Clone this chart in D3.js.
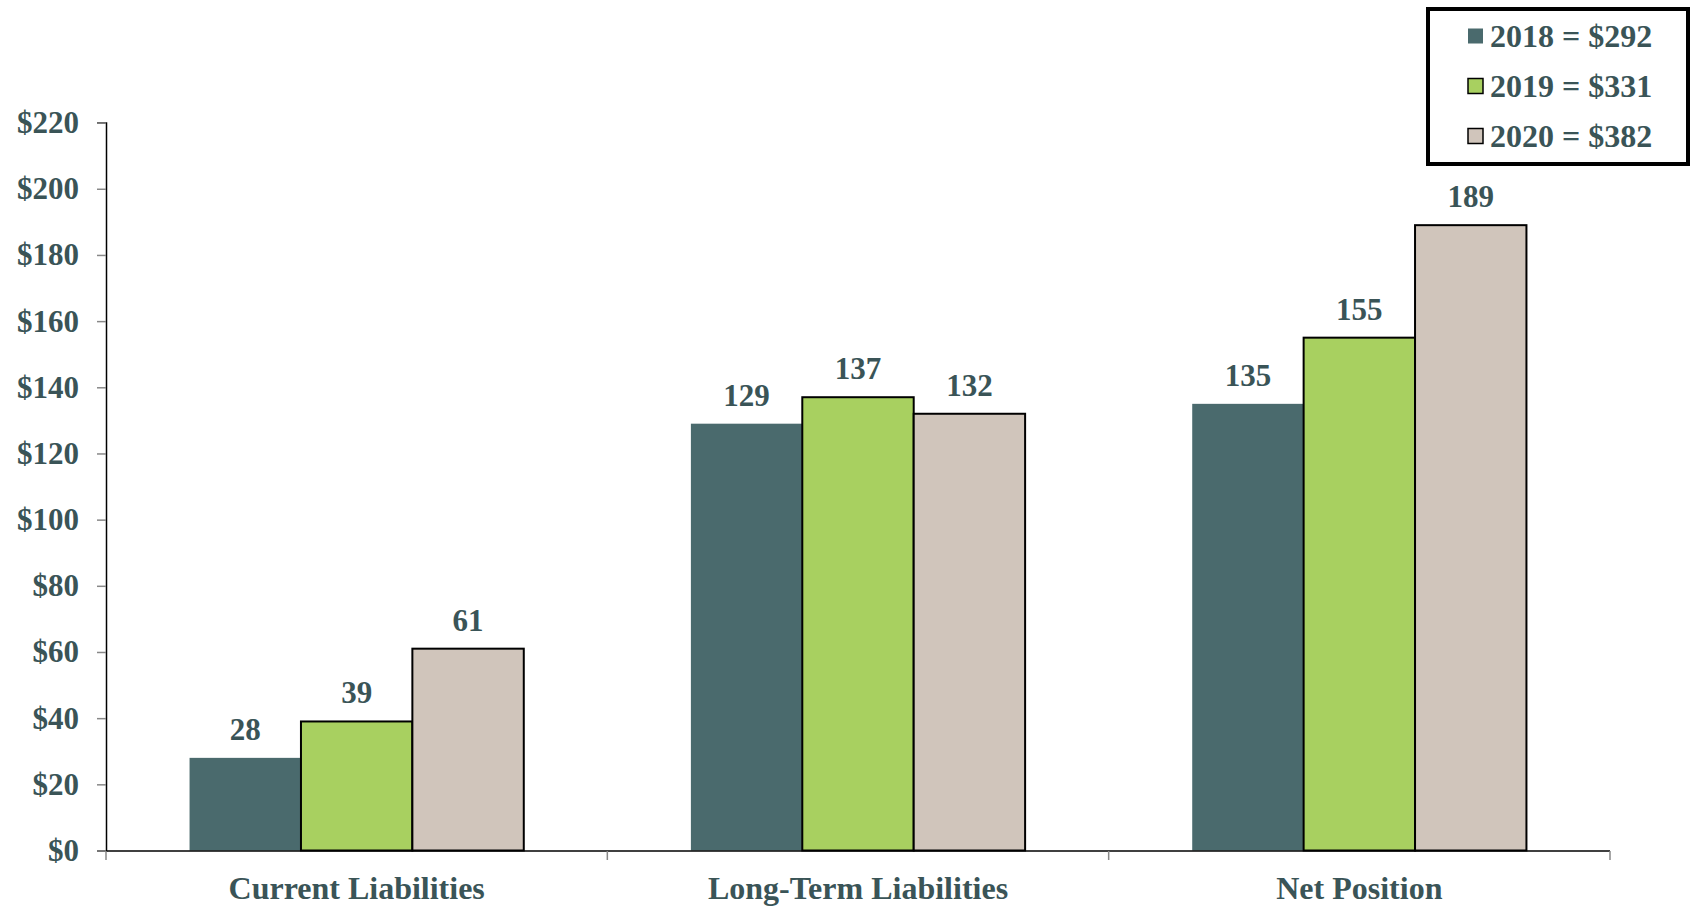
<!DOCTYPE html>
<html>
<head>
<meta charset="utf-8">
<script src="https://cdn.jsdelivr.net/npm/d3@7/dist/d3.min.js"></script>
<style>
  html, body { margin: 0; padding: 0; background: #fff; }
  svg { display: block; }
  text { font-family: "Liberation Serif", "Times New Roman", serif; font-weight: bold; fill: #3a5457; }
</style>
</head>
<body>
<script>
const categories = ["Current Liabilities", "Long-Term Liabilities", "Net Position"];
const years = ["2018", "2019", "2020"];
const values2018 = [28, 129, 135];
const values2019 = [39, 137, 155];
const values2020 = [61, 132, 189];
const totals = ["$292", "$331", "$382"];
const yTicks = [0, 20, 40, 60, 80, 100, 120, 140, 160, 180, 200, 220];

const series = [values2018, values2019, values2020];
const colors = ["#4a6a6d", "#a8d060", "#d0c5bb"];
const strokes = ["none", "#000", "#000"];

const W = 1701, H = 907;
const svg = d3.select("body").append("svg").attr("width", W).attr("height", H);

const x0 = d3.scaleBand().domain(categories).range([106, 1610]).padding(0);
const x1 = d3.scaleBand().domain(years).range([0, x0.bandwidth()]).paddingInner(0).paddingOuter(0.75);
const y = d3.scaleLinear().domain([0, 220]).range([850.5, 122.6]);

// Y axis
const yAxis = svg.append("g").attr("transform", "translate(106,0)")
  .call(d3.axisLeft(y).tickValues(yTicks).tickSize(9).tickPadding(18).tickFormat(d => "$" + d));
yAxis.select(".domain").attr("stroke", "#000").attr("stroke-width", 1.5);
yAxis.selectAll(".tick line").attr("stroke", "#888").attr("stroke-width", 1.5);
yAxis.selectAll(".tick text").style("font-size", "31px").attr("fill", "#3a5457")
  .style("font-family", '"Liberation Serif", serif').style("font-weight", "bold");

// Bars
const groups = svg.append("g").selectAll("g").data(categories).join("g")
  .attr("transform", d => `translate(${x0(d)},0)`);

groups.selectAll("rect")
  .data((c, ci) => years.map((yr, si) => ({ yr, si, v: series[si][ci] })))
  .join("rect")
  .attr("x", d => x1(d.yr))
  .attr("y", d => y(d.v))
  .attr("width", x1.bandwidth())
  .attr("height", d => y(0) - y(d.v))
  .attr("fill", d => colors[d.si])
  .attr("stroke", d => strokes[d.si])
  .attr("stroke-width", 2);

groups.selectAll("text.val")
  .data((c, ci) => years.map((yr, si) => ({ yr, si, v: series[si][ci] })))
  .join("text")
  .attr("class", "val")
  .attr("x", d => x1(d.yr) + x1.bandwidth() / 2)
  .attr("y", d => y(d.v) - 18)
  .attr("text-anchor", "middle")
  .style("font-size", "31px")
  .text(d => d.v);

// X axis
svg.append("line").attr("x1", 106).attr("x2", 1610).attr("y1", 851).attr("y2", 851)
  .attr("stroke", "#000").attr("stroke-width", 1.5);
const bounds = [x0.range()[0]].concat(categories.map(c => x0(c) + x0.bandwidth()));
svg.append("g").selectAll("line").data(bounds).join("line")
  .attr("x1", d => d).attr("x2", d => d).attr("y1", 851).attr("y2", 860)
  .attr("stroke", "#888").attr("stroke-width", 1.5);
svg.append("g").selectAll("text").data(categories).join("text")
  .attr("x", d => x0(d) + x0.bandwidth() / 2)
  .attr("y", 899)
  .attr("text-anchor", "middle")
  .style("font-size", "32px")
  .text(d => d);

// Legend
const lg = svg.append("g");
lg.append("rect").attr("x", 1428).attr("y", 9).attr("width", 260).attr("height", 155)
  .attr("fill", "#fff").attr("stroke", "#000").attr("stroke-width", 4);
const ly = d3.scalePoint().domain(years).range([36, 136]);
years.forEach((yr, i) => {
  lg.append("rect").attr("x", 1468).attr("y", ly(yr) - 7.5).attr("width", 15).attr("height", 15)
    .attr("fill", colors[i]).attr("stroke", strokes[i]).attr("stroke-width", 1.5);
  lg.append("text").attr("x", 1490).attr("y", ly(yr) + 11).style("font-size", "32px")
    .text(`${yr} = ${totals[i]}`);
});
</script>
</body>
</html>
